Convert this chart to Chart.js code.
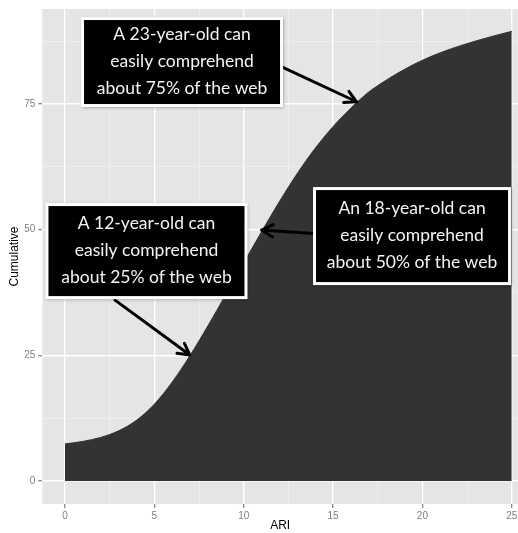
<!DOCTYPE html>
<html>
<head>
<meta charset="utf-8">
<script src="https://cdn.jsdelivr.net/npm/chart.js@4/dist/chart.umd.min.js"></script>
<style>
  html, body { margin: 0; padding: 0; background: #fff; }
  #wrap { width: 518px; height: 533px; position: relative; }
</style>
</head>
<body>
<div id="wrap"><canvas id="ariChart"></canvas></div>
<script>
// data
const ariValues = [0, 1, 2, 3, 4, 5, 6, 7, 8, 9, 10, 11, 12, 13, 14, 15, 16, 17, 18, 19, 20, 21, 22, 23, 24, 25];
const cumulativeValues = [7.4, 7.9, 8.7, 10.0, 12.1, 15.3, 19.7, 25.0, 30.9, 37.1, 43.4, 49.6, 55.6, 61.2, 66.2, 70.5, 74.2, 77.4, 79.8, 81.9, 83.7, 85.2, 86.45, 87.55, 88.55, 89.45];

const xMajorTicks = [0, 5, 10, 15, 20, 25];
const xMinorTicks = [2.5, 7.5, 12.5, 17.5, 22.5];
const yMajorTicks = [0, 25, 50, 75];
const yMinorTicks = [12.5, 37.5, 62.5, 87.5];

const noteTexts = [
  ['A 23-year-old can', 'easily comprehend', 'about 75% of the web'],
  ['A 12-year-old can', 'easily comprehend', 'about 25% of the web'],
  ['An 18-year-old can', 'easily comprehend', 'about 50% of the web']
];

// where the notes sit (data units) - layout only
const notes = [
  { text: noteTexts[0], cx: 6.55, cy: 83.35, w: 202, h: 90, from: [12.13, 82.4], to: [16.32, 75.45] },
  { text: noteTexts[1], cx: 4.56, cy: 45.75, w: 202, h: 96, from: [2.80, 36.0], to: [6.99, 25.07] },
  { text: noteTexts[2], cx: 19.42, cy: 48.74, w: 198, h: 98, from: [13.9, 49.27], to: [11.0, 49.93] }
];

const isMajor = (list, v) => list.includes(v);

const panelBg = {
  id: 'panelBg',
  beforeDraw(chart) {
    const {ctx, chartArea: a} = chart;
    ctx.save();
    ctx.fillStyle = '#E5E5E5';
    ctx.fillRect(a.left, a.top, a.right - a.left, a.bottom - a.top);
    ctx.restore();
  }
};

function drawArrow(ctx, x1, y1, x2, y2) {
  const ang = Math.atan2(y2 - y1, x2 - x1);
  const len = 13;
  ctx.beginPath();
  ctx.moveTo(x1, y1);
  ctx.lineTo(x2, y2);
  ctx.moveTo(x2 - len * Math.cos(ang - 0.5), y2 - len * Math.sin(ang - 0.5));
  ctx.lineTo(x2, y2);
  ctx.lineTo(x2 - len * Math.cos(ang + 0.5), y2 - len * Math.sin(ang + 0.5));
  ctx.stroke();
}

const notesPlugin = {
  id: 'notes',
  afterDraw(chart) {
    const {ctx} = chart;
    const xs = chart.scales.x, ys = chart.scales.y;
    ctx.save();
    notes.forEach(n => {
      // arrow
      ctx.strokeStyle = '#000';
      ctx.lineWidth = 3;
      ctx.lineCap = 'round';
      ctx.lineJoin = 'round';
      drawArrow(ctx,
        xs.getPixelForValue(n.from[0]), ys.getPixelForValue(n.from[1]),
        xs.getPixelForValue(n.to[0]), ys.getPixelForValue(n.to[1]));

      // box
      const cx = xs.getPixelForValue(n.cx), cy = ys.getPixelForValue(n.cy);
      const left = cx - n.w / 2, top = cy - n.h / 2;
      ctx.shadowColor = 'rgba(0,0,0,0.35)';
      ctx.shadowBlur = 3;
      ctx.shadowOffsetX = 1;
      ctx.shadowOffsetY = 1;
      ctx.fillStyle = '#fff';
      ctx.fillRect(left, top, n.w, n.h);
      ctx.shadowColor = 'transparent';
      ctx.fillStyle = '#000';
      ctx.fillRect(left + 3, top + 3, n.w - 6, n.h - 6);

      ctx.fillStyle = '#f4f4f4';
      ctx.font = '17.5px Lato, "Open Sans", sans-serif';
      ctx.textAlign = 'center';
      ctx.textBaseline = 'middle';
      n.text.forEach((line, i) => {
        ctx.fillText(line, cx, cy - 1 + (i - 1) * 27);
      });
    });
    ctx.restore();
  }
};

const tickFont = { family: '"Liberation Sans", Arial, sans-serif', size: 10 };
const titleFont = { family: '"Liberation Sans", Arial, sans-serif', size: 12 };

new Chart(document.getElementById('ariChart'), {
  type: 'line',
  data: {
    datasets: [{
      data: ariValues.map((x, i) => ({ x: x, y: cumulativeValues[i] })),
      fill: 'origin',
      backgroundColor: '#333333',
      borderColor: '#333333',
      borderWidth: 1,
      pointRadius: 0,
      cubicInterpolationMode: 'monotone'
    }]
  },
  options: {
    responsive: true,
    maintainAspectRatio: false,
    animation: false,
    layout: { padding: { top: 9, left: 0, right: 0, bottom: 0 } },
    plugins: { legend: { display: false }, tooltip: { enabled: false } },
    scales: {
      x: {
        type: 'linear',
        min: -1.27,
        max: 25.35,
        afterBuildTicks(scale) {
          scale.ticks = xMajorTicks.concat(xMinorTicks).sort((a, b) => a - b).map(v => ({ value: v }));
        },
        afterFit(scale) {
          scale.height = 29;
          scale.paddingLeft = 0;
          scale.paddingRight = 0;
        },
        border: { display: false },
        grid: {
          color: c => isMajor(xMajorTicks, c.tick.value) ? '#ffffff' : '#F2F2F2',
          lineWidth: c => isMajor(xMajorTicks, c.tick.value) ? 1.4 : 0.7,
          tickColor: c => isMajor(xMajorTicks, c.tick.value) ? '#7F7F7F' : 'rgba(0,0,0,0)',
          tickWidth: 1.2,
          tickLength: 4
        },
        ticks: {
          autoSkip: false,
          maxRotation: 0,
          padding: 2,
          color: '#7F7F7F',
          font: tickFont,
          callback: v => isMajor(xMajorTicks, v) ? String(v) : ''
        },
        title: { display: true, text: 'ARI', color: '#000', font: titleFont, padding: { top: 0, bottom: 0 } }
      },
      y: {
        type: 'linear',
        min: -4.55,
        max: 93.9,
        afterBuildTicks(scale) {
          scale.ticks = yMajorTicks.concat(yMinorTicks).sort((a, b) => a - b).map(v => ({ value: v }));
        },
        afterFit(scale) {
          scale.width = 42.3;
        },
        border: { display: false },
        grid: {
          color: c => isMajor(yMajorTicks, c.tick.value) ? '#ffffff' : '#F2F2F2',
          lineWidth: c => isMajor(yMajorTicks, c.tick.value) ? 1.4 : 0.7,
          tickColor: c => isMajor(yMajorTicks, c.tick.value) ? '#7F7F7F' : 'rgba(0,0,0,0)',
          tickWidth: 1.2,
          tickLength: 4
        },
        ticks: {
          autoSkip: false,
          padding: 3,
          color: '#7F7F7F',
          font: tickFont,
          callback: v => isMajor(yMajorTicks, v) ? String(v) : ''
        },
        title: { display: true, text: 'Cumulative', color: '#000', font: titleFont, padding: { top: 7, bottom: 0 } }
      }
    }
  },
  plugins: [panelBg, notesPlugin]
});
</script>
</body>
</html>
